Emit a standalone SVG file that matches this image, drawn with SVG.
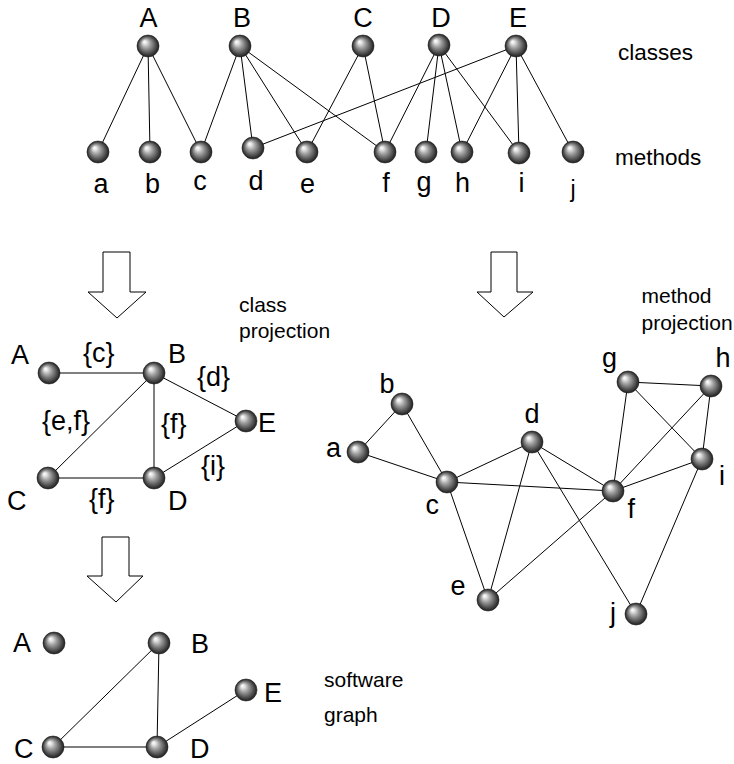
<svg xmlns="http://www.w3.org/2000/svg" width="734" height="764" viewBox="0 0 734 764">
<defs>
<radialGradient id="sph" cx="50%" cy="50%" r="50%" fx="33%" fy="30%">
<stop offset="0%" stop-color="#ffffff"/>
<stop offset="15%" stop-color="#e8e8e8"/>
<stop offset="42%" stop-color="#a0a0a0"/>
<stop offset="72%" stop-color="#5c5c5c"/>
<stop offset="100%" stop-color="#1e1e1e"/>
</radialGradient>
<circle id="ball" r="11" fill="url(#sph)" stroke="#222" stroke-width="0.6"/>
</defs>
<style>
.e{stroke:#000;stroke-width:1;fill:none}
.L{font-family:"Liberation Sans",Arial,Helvetica,sans-serif;font-size:27px;fill:#000}
.m{text-anchor:middle}
.t{font-family:"Liberation Sans",Arial,Helvetica,sans-serif;font-size:22.5px;fill:#000}
.s{font-family:"Liberation Sans",Arial,Helvetica,sans-serif;font-size:21px;fill:#000}
.arr{fill:#fff;stroke:#000;stroke-width:1}
</style>
<rect width="734" height="764" fill="#fff"/>

<g id="connectors">
<!-- bipartite -->
<line class="e" x1="148" y1="46" x2="98" y2="152"/>
<line class="e" x1="148" y1="46" x2="150" y2="152"/>
<line class="e" x1="148" y1="46" x2="201" y2="152"/>
<line class="e" x1="240" y1="46" x2="201" y2="152"/>
<line class="e" x1="240" y1="46" x2="253" y2="148"/>
<line class="e" x1="240" y1="46" x2="307" y2="152"/>
<line class="e" x1="240" y1="46" x2="385" y2="152"/>
<line class="e" x1="363" y1="46" x2="307" y2="152"/>
<line class="e" x1="363" y1="46" x2="385" y2="152"/>
<line class="e" x1="439" y1="45" x2="385" y2="152"/>
<line class="e" x1="439" y1="45" x2="426" y2="152"/>
<line class="e" x1="439" y1="45" x2="462" y2="152"/>
<line class="e" x1="439" y1="45" x2="519" y2="153"/>
<line class="e" x1="516" y1="46" x2="253" y2="148"/>
<line class="e" x1="516" y1="46" x2="462" y2="152"/>
<line class="e" x1="516" y1="46" x2="519" y2="153"/>
<line class="e" x1="516" y1="46" x2="573" y2="152"/>
<!-- class projection -->
<line class="e" x1="49" y1="373" x2="154" y2="373"/>
<line class="e" x1="154" y1="373" x2="48" y2="478"/>
<line class="e" x1="154" y1="373" x2="154" y2="478"/>
<line class="e" x1="154" y1="373" x2="246" y2="421"/>
<line class="e" x1="48" y1="478" x2="154" y2="478"/>
<line class="e" x1="154" y1="478" x2="246" y2="421"/>
<!-- method projection -->
<line class="e" x1="358" y1="452" x2="402" y2="404"/>
<line class="e" x1="358" y1="452" x2="447" y2="482"/>
<line class="e" x1="402" y1="404" x2="447" y2="482"/>
<line class="e" x1="447" y1="482" x2="532" y2="442"/>
<line class="e" x1="447" y1="482" x2="613" y2="491"/>
<line class="e" x1="447" y1="482" x2="488" y2="600"/>
<line class="e" x1="532" y1="442" x2="488" y2="600"/>
<line class="e" x1="532" y1="442" x2="613" y2="491"/>
<line class="e" x1="532" y1="442" x2="636" y2="614"/>
<line class="e" x1="488" y1="600" x2="613" y2="491"/>
<line class="e" x1="613" y1="491" x2="628" y2="382"/>
<line class="e" x1="613" y1="491" x2="711" y2="386"/>
<line class="e" x1="613" y1="491" x2="702" y2="459"/>
<line class="e" x1="628" y1="382" x2="711" y2="386"/>
<line class="e" x1="628" y1="382" x2="702" y2="459"/>
<line class="e" x1="711" y1="386" x2="702" y2="459"/>
<line class="e" x1="702" y1="459" x2="636" y2="614"/>
<!-- software graph -->
<line class="e" x1="159" y1="643" x2="53" y2="747"/>
<line class="e" x1="159" y1="643" x2="157" y2="747"/>
<line class="e" x1="53" y1="747" x2="157" y2="747"/>
<line class="e" x1="157" y1="747" x2="246" y2="690"/>
</g>

<g id="arrows">
<polygon class="arr" points="103,252 130,252 130,292 146,292 117,318 88,292 103,292"/>
<polygon class="arr" points="491,252 517,252 517,292 533,292 504,317 477,292 491,292"/>
<polygon class="arr" points="102,537 129,537 129,576 143,576 116,602 87,576 102,576"/>
</g>

<!-- top: classes -->
<g id="cls-A"><use href="#ball" x="148" y="46"/><text class="L m" x="148.5" y="27">A</text></g>
<g id="cls-B"><use href="#ball" x="240" y="46"/><text class="L m" x="242" y="27">B</text></g>
<g id="cls-C"><use href="#ball" x="363" y="46"/><text class="L m" x="363" y="27">C</text></g>
<g id="cls-D"><use href="#ball" x="439" y="45"/><text class="L m" x="441" y="27">D</text></g>
<g id="cls-E"><use href="#ball" x="516" y="46"/><text class="L m" x="518" y="27">E</text></g>
<text class="t" x="618" y="60">classes</text>

<!-- top: methods -->
<g id="met-a"><use href="#ball" x="98" y="152"/><text class="L m" x="101" y="193">a</text></g>
<g id="met-b"><use href="#ball" x="150" y="152"/><text class="L m" x="152.5" y="193">b</text></g>
<g id="met-c"><use href="#ball" x="201" y="152"/><text class="L m" x="200" y="190">c</text></g>
<g id="met-d"><use href="#ball" x="253" y="148"/><text class="L m" x="256" y="190">d</text></g>
<g id="met-e"><use href="#ball" x="307" y="152"/><text class="L m" x="307.5" y="193">e</text></g>
<g id="met-f"><use href="#ball" x="385" y="152"/><text class="L m" x="386" y="191.5">f</text></g>
<g id="met-g"><use href="#ball" x="426" y="152"/><text class="L m" x="424" y="191">g</text></g>
<g id="met-h"><use href="#ball" x="462" y="152"/><text class="L m" x="462.5" y="191.5">h</text></g>
<g id="met-i"><use href="#ball" x="519" y="153"/><text class="L m" x="521.5" y="191.5">i</text></g>
<g id="met-j"><use href="#ball" x="573" y="152"/><text class="L m" x="573" y="197" style="font-size:23px">j</text></g>
<text class="t" x="615" y="165">methods</text>

<!-- class projection -->
<g id="cp-A"><use href="#ball" x="49" y="373"/><text class="L" x="11" y="364">A</text></g>
<g id="cp-B"><use href="#ball" x="154" y="373"/><text class="L" x="168" y="363">B</text></g>
<g id="cp-C"><use href="#ball" x="48" y="478"/><text class="L" x="7" y="510">C</text></g>
<g id="cp-D"><use href="#ball" x="154" y="478"/><text class="L" x="168" y="510">D</text></g>
<g id="cp-E"><use href="#ball" x="246" y="421"/><text class="L" x="258" y="432">E</text></g>
<g id="cp-labels">
<text class="L" x="83" y="362">{c}</text>
<text class="L" x="197" y="386">{d}</text>
<text class="L" x="42" y="430">{e,f}</text>
<text class="L" x="161" y="433">{f}</text>
<text class="L" x="201" y="475">{i}</text>
<text class="L" x="89" y="508">{f}</text>
</g>
<text class="s" x="239" y="311.5">class</text>
<text class="s" x="239" y="337.5">projection</text>

<!-- method projection -->
<g id="mp-a"><use href="#ball" x="358" y="452"/><text class="L" x="326" y="457">a</text></g>
<g id="mp-b"><use href="#ball" x="402" y="404"/><text class="L" x="379.5" y="393">b</text></g>
<g id="mp-c"><use href="#ball" x="447" y="482"/><text class="L" x="425.5" y="514">c</text></g>
<g id="mp-d"><use href="#ball" x="532" y="442"/><text class="L" x="524.5" y="423">d</text></g>
<g id="mp-e"><use href="#ball" x="488" y="600"/><text class="L" x="450.5" y="595">e</text></g>
<g id="mp-f"><use href="#ball" x="613" y="491"/><text class="L" x="627.5" y="518">f</text></g>
<g id="mp-g"><use href="#ball" x="628" y="382"/><text class="L" x="602" y="367">g</text></g>
<g id="mp-h"><use href="#ball" x="711" y="386"/><text class="L" x="715.5" y="367">h</text></g>
<g id="mp-i"><use href="#ball" x="702" y="459"/><text class="L" x="719" y="485">i</text></g>
<g id="mp-j"><use href="#ball" x="636" y="614"/><text class="L" x="610" y="622">j</text></g>
<text class="s" x="641.5" y="302.5">method</text>
<text class="s" x="641.5" y="329.5">projection</text>

<!-- software graph -->
<g id="sg-A"><use href="#ball" x="54" y="643"/><text class="L" x="13" y="652">A</text></g>
<g id="sg-B"><use href="#ball" x="159" y="643"/><text class="L" x="191" y="653">B</text></g>
<g id="sg-C"><use href="#ball" x="53" y="747"/><text class="L" x="14" y="758">C</text></g>
<g id="sg-D"><use href="#ball" x="157" y="747"/><text class="L" x="190" y="758">D</text></g>
<g id="sg-E"><use href="#ball" x="246" y="690"/><text class="L" x="264" y="701.5">E</text></g>
<text class="s" x="324" y="686.5">software</text>
<text class="s" x="324" y="721.5">graph</text>
</svg>
